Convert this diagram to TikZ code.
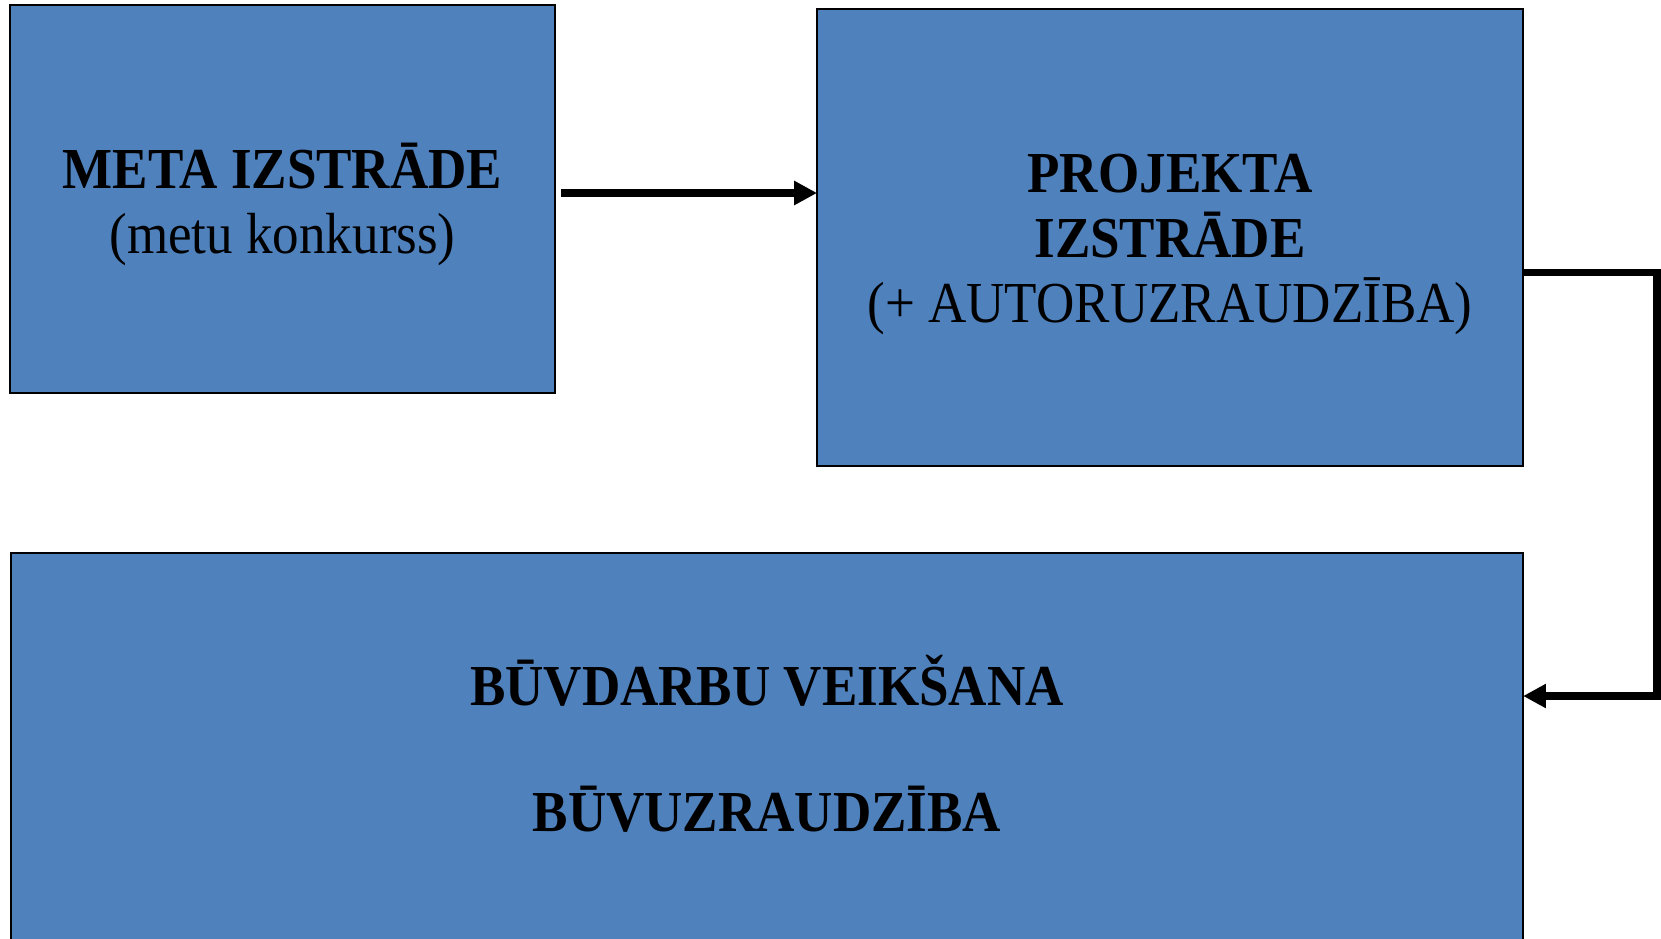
\documentclass[tikz,border=0pt]{standalone}
\usepackage{fontspec}
\setmainfont{Liberation Serif}[FakeStretch=0.915]
\usepackage{tikz}
\usetikzlibrary{arrows.meta}
\definecolor{boxblue}{rgb}{0.310, 0.506, 0.741}
\tikzstyle{stage}=[rectangle, draw=black, line width=1.2pt, fill=boxblue, outer sep=0pt, inner sep=0pt, align=center, font=\fontsize{33}{37}\selectfont]
\tikzstyle{flow}=[line width=4.5pt, -{Triangle[length=13pt,width=13pt]}]

\begin{document}
\begin{tikzpicture}[x=0.02cm, y=-0.02cm]
\useasboundingbox (0,0) rectangle (1661,938);
\clip (0,0) rectangle (1661,938);
\node[stage, minimum width=10.9cm, minimum height=7.76cm] (meta) at (282.5,199) {\raisebox{0pt}[\dimexpr\height+6pt\relax]{\textbf{META IZSTRĀDE}}\\(metu konkurss)};
\node[stage, minimum width=14.12cm, minimum height=9.15cm] (proj) at (1170,237.3) {\raisebox{0pt}[\dimexpr\height+8.4pt\relax]{\textbf{PROJEKTA}}\\\textbf{IZSTRĀDE}\\(+ AUTORUZRAUDZĪBA)};
\node[stage, minimum width=30.25cm, minimum height=7.88cm] (buv) at (767,750) {\textbf{BŪVDARBU VEIKŠANA}\\[35pt]\raisebox{0pt}[\height][\dimexpr\depth+7.2pt\relax]{\textbf{BŪVUZRAUDZĪBA}}};
\coordinate (metaout) at (561,193);
\coordinate (turnA) at (1657,272.5);
\coordinate (turnB) at (1657,696);
\draw[flow] (metaout) -- (metaout -| proj.west);
\draw[flow] (proj.east |- turnA) -- (turnA) -- (turnB) -- (buv.east |- turnB);
\end{tikzpicture}
\end{document}
